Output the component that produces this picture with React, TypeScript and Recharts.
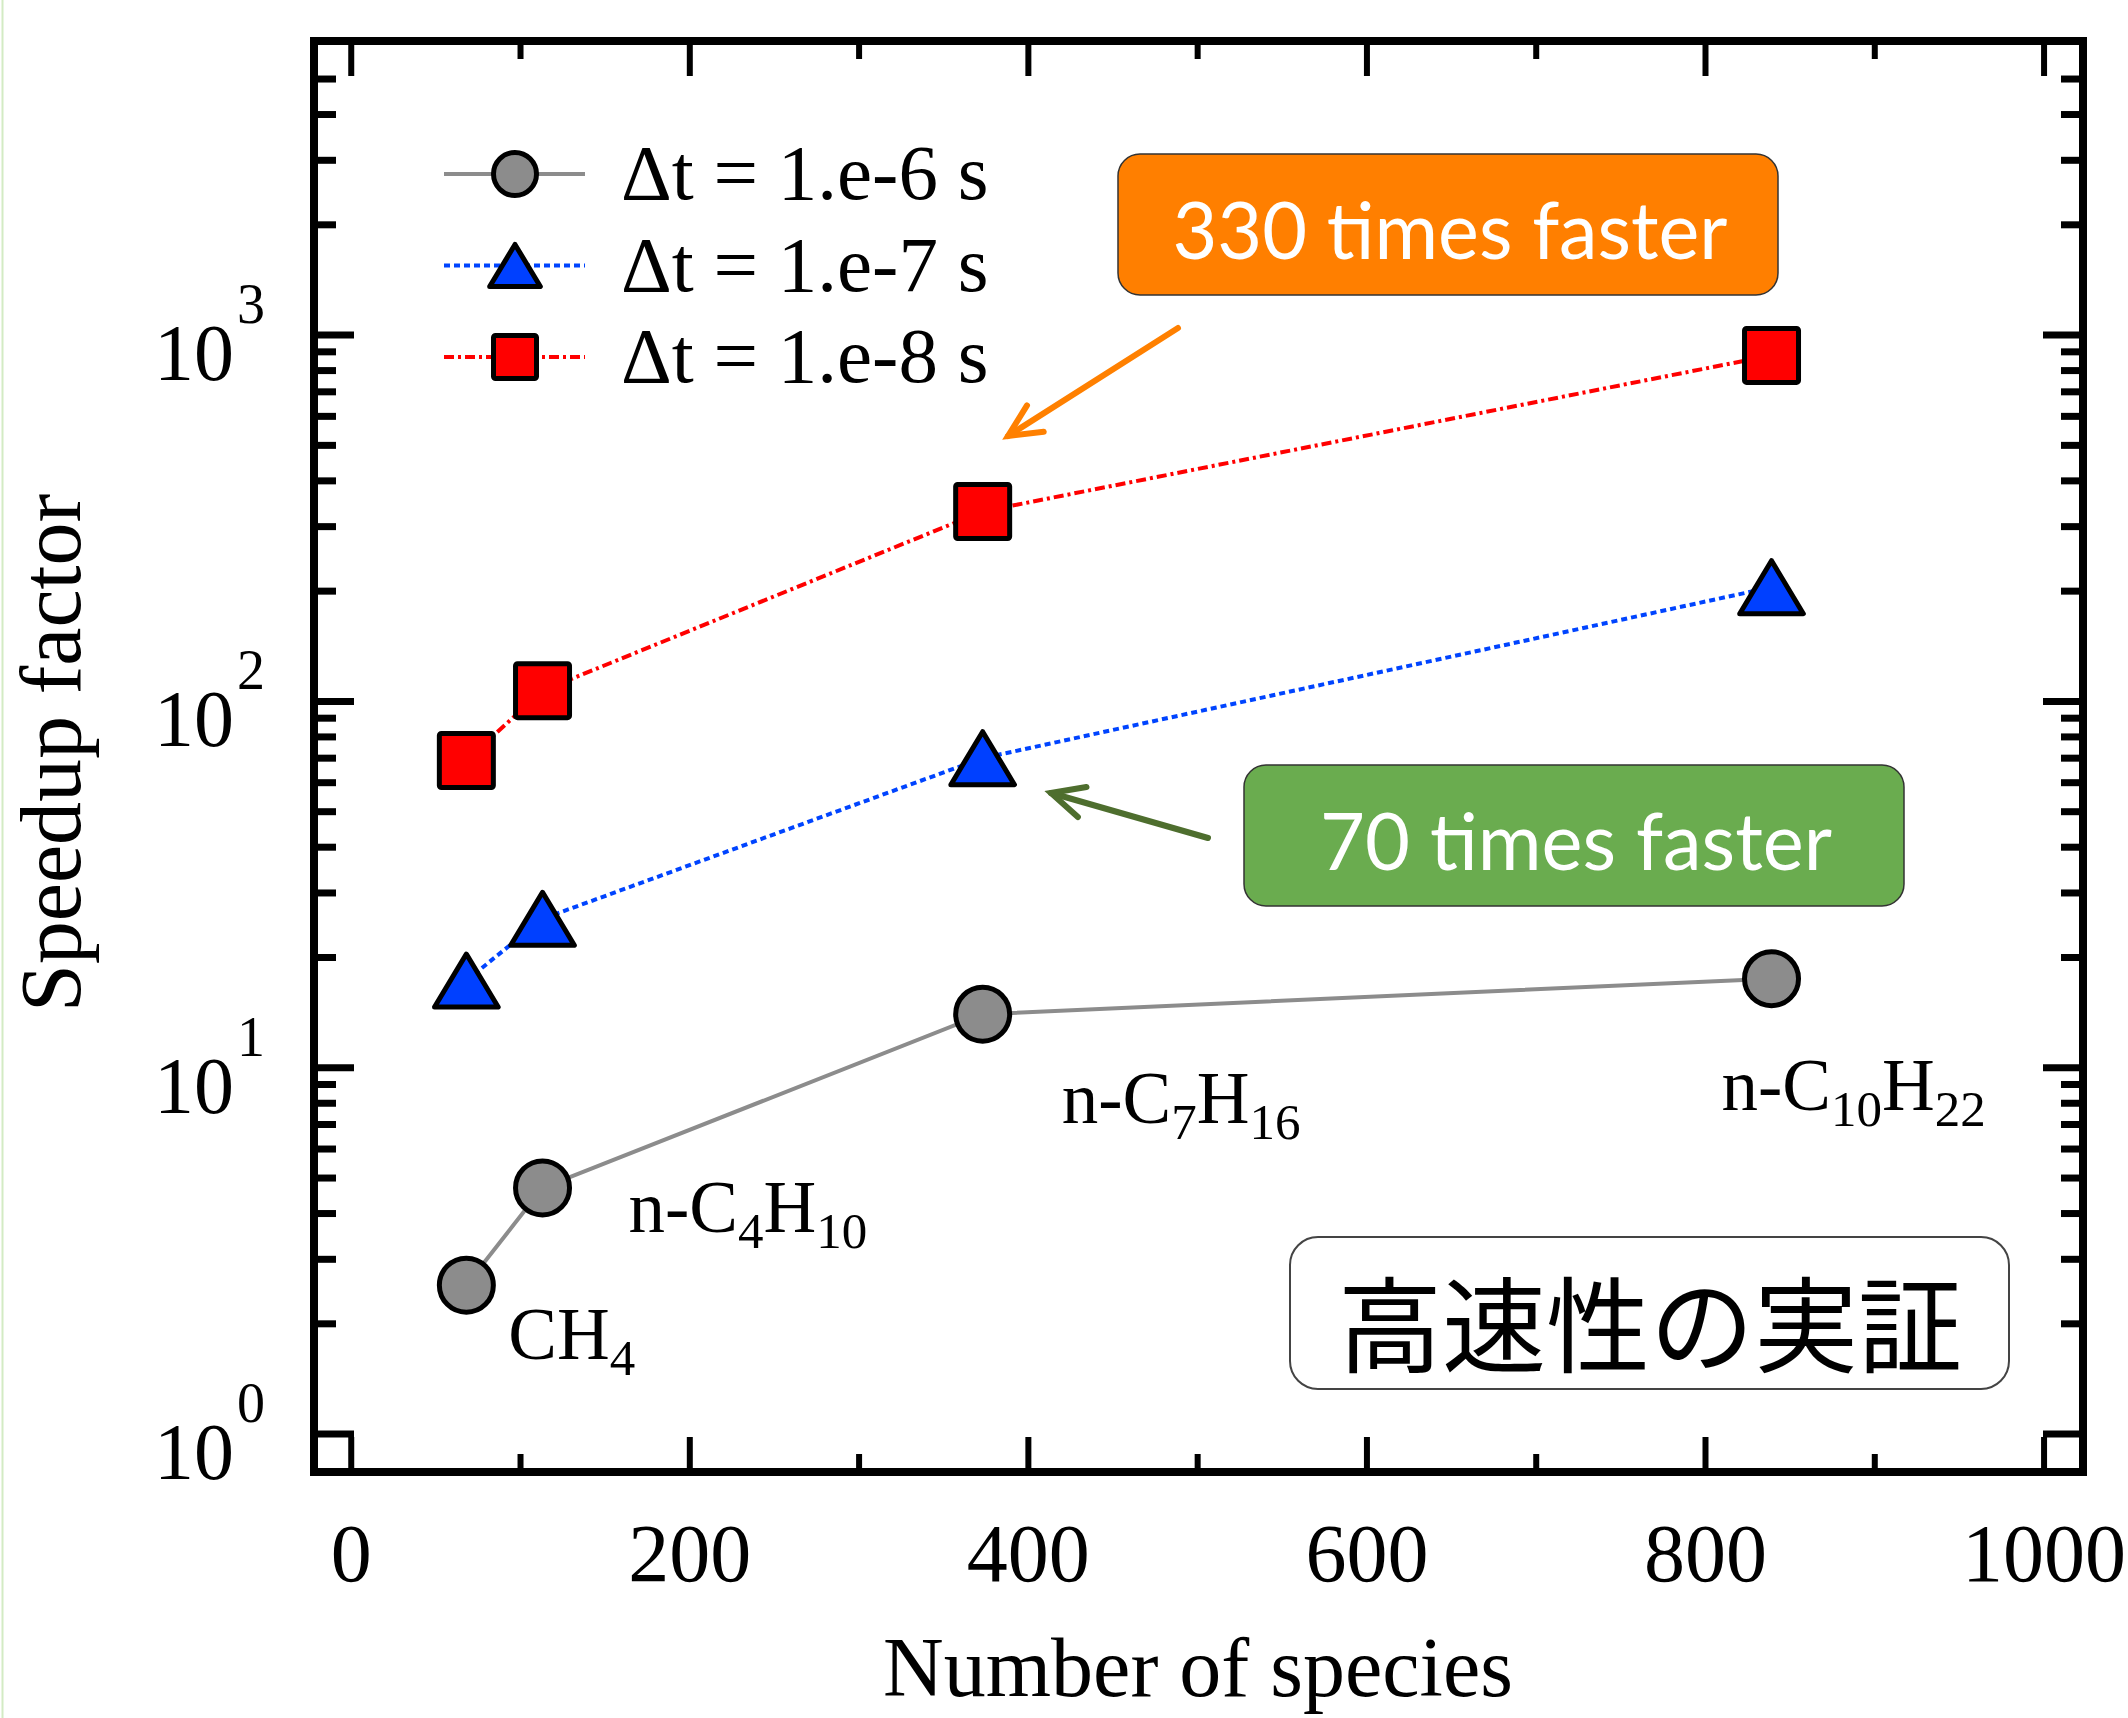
import React from 'react'
import { ComposedChart, Line, XAxis, YAxis } from 'recharts'

// number of species in each mechanism
const species = [68, 113, 373, 839]
// speedup factor per time step
const speedup1e6 = [2.55, 4.7, 14, 17.5]
const speedup1e7 = [17.3, 25.5, 70, 205]
const speedup1e8 = [69, 107, 330, 880]

// fuel names: [main text, subscript] pairs
const molecules = [
  [['CH', '4']],
  [['n-C', '4'], ['H', '10']],
  [['n-C', '7'], ['H', '16']],
  [['n-C', '10'], ['H', '22']],
]

const legendLabels = ['Δt = 1.e-6 s', 'Δt = 1.e-7 s', 'Δt = 1.e-8 s']

const xMajorTicks = [0, 200, 400, 600, 800, 1000]
const xTicks = [0, 100, 200, 300, 400, 500, 600, 700, 800, 900, 1000]
const yMajorTicks = [1, 10, 100, 1000]
const yTicks = [
  1, 2, 3, 4, 5, 6, 7, 8, 9,
  10, 20, 30, 40, 50, 60, 70, 80, 90,
  100, 200, 300, 400, 500, 600, 700, 800, 900,
  1000, 2000, 3000, 4000, 5000,
]

const data = species.map((s, i) => ({
  species: s,
  dt6: speedup1e6[i],
  dt7: speedup1e7[i],
  dt8: speedup1e8[i],
}))

const W = 2128
const H = 1718
const X_DOMAIN = [-22, 1023]
const Y_DOMAIN = [0.788, 6350]
const SERIF = '"Liberation Serif", "Times New Roman", serif'
const AXIS_LINE = { stroke: '#000', strokeWidth: 8, strokeLinecap: 'square' }

const SERIES = [
  { key: 'dt6', stroke: '#8c8c8c', dash: undefined, marker: 'circle', fill: '#8c8c8c' },
  { key: 'dt7', stroke: '#0044ff', dash: '6 4', marker: 'triangle', fill: '#0040ff' },
  { key: 'dt8', stroke: '#ff0000', dash: '10 4 3 4', marker: 'square', fill: '#ff0000' },
]

// label placement relative to the gray markers
const MOLECULE_OFFSETS = [
  [42, 74],
  [86, 44],
  [79, 109],
  [-50, 131],
]
const SUB_SHIFT = 16

function Marker({ kind, cx, cy, size, fill }) {
  if (kind === 'circle') {
    return <circle cx={cx} cy={cy} r={size / 2 - 2.5} fill={fill} stroke="#000" strokeWidth={5} />
  }
  if (kind === 'square') {
    const h = size / 2 - 2.5
    return (
      <rect x={cx - h} y={cy - h} width={2 * h} height={2 * h} rx={2} fill={fill} stroke="#000" strokeWidth={5} />
    )
  }
  const hw = (size * 1.18) / 2 - 3
  const hh = size / 2 - 3
  return (
    <polygon
      points={`${cx},${cy - hh} ${cx + hw},${cy + hh} ${cx - hw},${cy + hh}`}
      fill={fill}
      stroke="#000"
      strokeWidth={5}
      strokeLinejoin="round"
    />
  )
}

function MoleculeLabel({ x, y, index }) {
  const parts = molecules[index]
  const [dx, dy] = MOLECULE_OFFSETS[index]
  return (
    <text x={x + dx} y={y + dy} fontFamily={SERIF} fontSize={73} fill="#000">
      {parts.flatMap(([main, sub], i) => [
        <tspan key={`m${i}`} dy={i === 0 ? 0 : -SUB_SHIFT}>
          {main}
        </tspan>,
        <tspan key={`s${i}`} dy={SUB_SHIFT} fontSize={51}>
          {sub}
        </tspan>,
      ])}
    </text>
  )
}

const isMajorX = (v) => xMajorTicks.includes(v)
const isMajorY = (v) => yMajorTicks.includes(v)

const BottomTick = ({ x, y, payload }) => {
  const major = isMajorX(payload.value)
  return (
    <g>
      <line x1={x} x2={x} y1={y} y2={y - (major ? 35 : 18)} stroke="#000" strokeWidth={6} />
      {major && (
        <text x={x} y={y + 109} textAnchor="middle" fontFamily={SERIF} fontSize={82} fill="#000">
          {payload.value}
        </text>
      )}
    </g>
  )
}

const TopTick = ({ x, y, payload }) => {
  const major = isMajorX(payload.value)
  return <line x1={x} x2={x} y1={y} y2={y + (major ? 35 : 18)} stroke="#000" strokeWidth={6} />
}

const LeftTick = ({ x, y, payload }) => {
  const major = isMajorY(payload.value)
  const exp = Math.round(Math.log10(payload.value))
  return (
    <g>
      <line x1={x} x2={x + (major ? 40 : 22)} y1={y} y2={y} stroke="#000" strokeWidth={7} />
      {major && (
        <g fontFamily={SERIF} fill="#000">
          <text x={234} y={y + 45} textAnchor="end" fontSize={80}>
            10
          </text>
          <text x={237} y={y - 12} fontSize={56}>
            {exp}
          </text>
        </g>
      )}
    </g>
  )
}

const RightTick = ({ x, y, payload }) => {
  const major = isMajorY(payload.value)
  return <line x1={x} x2={x - (major ? 40 : 22)} y1={y} y2={y} stroke="#000" strokeWidth={7} />
}

function Arrow({ from, to, color }) {
  const [x1, y1] = from
  const [x2, y2] = to
  const a = Math.atan2(y1 - y2, x1 - x2)
  const len = 36
  const spread = Math.PI / 7
  const p1 = [x2 + len * Math.cos(a + spread), y2 + len * Math.sin(a + spread)]
  const p2 = [x2 + len * Math.cos(a - spread), y2 + len * Math.sin(a - spread)]
  return (
    <g stroke={color} strokeWidth={6} fill="none" strokeLinecap="round">
      <line x1={x1} y1={y1} x2={x2} y2={y2} />
      <polyline points={`${p1[0]},${p1[1]} ${x2},${y2} ${p2[0]},${p2[1]}`} />
    </g>
  )
}

function Overlay() {
  return (
    <svg width={W} height={H} style={{ position: 'absolute', left: 0, top: 0, pointerEvents: 'none' }}>
      <line x1={2.5} x2={2.5} y1={0} y2={H} stroke="#d3ebc4" strokeWidth={2} />

      {/* legend */}
      {SERIES.map((s, i) => {
        const cy = 174 + i * 91.5
        return (
          <g key={s.key}>
            <line x1={444} x2={585} y1={cy} y2={cy} stroke={s.stroke} strokeWidth={4} strokeDasharray={s.dash} />
            <Marker kind={s.marker} cx={515} cy={cy} size={48} fill={s.fill} />
            <text x={621} y={cy + 25} fontFamily={SERIF} fontSize={79} fill="#000">
              {legendLabels[i]}
            </text>
          </g>
        )
      })}

      {/* callouts */}
      <rect x={1118} y={154} width={660} height={141} rx={22} fill="#ff7f00" stroke="#333" strokeWidth={1.5} />
      <text
        x={1450}
        y={259}
        textAnchor="middle"
        fontFamily="Lato, 'Open Sans', sans-serif"
        fontSize={80}
        fill="#fff"
        textLength={555}
        lengthAdjust="spacingAndGlyphs"
      >
        330 times faster
      </text>
      <Arrow from={[1178, 328]} to={[1008, 436]} color="#ff8000" />

      <rect x={1244} y={765} width={660} height={141} rx={22} fill="#6aac4f" stroke="#333" strokeWidth={1.5} />
      <text
        x={1576}
        y={870}
        textAnchor="middle"
        fontFamily="Lato, 'Open Sans', sans-serif"
        fontSize={80}
        fill="#fff"
        textLength={512}
        lengthAdjust="spacingAndGlyphs"
      >
        70 times faster
      </text>
      <Arrow from={[1208, 838]} to={[1051, 793]} color="#4e6e2e" />

      <rect x={1290} y={1237} width={719} height={152} rx={28} fill="#fff" stroke="#444" strokeWidth={2} />
      <text
        x={1650}
        y={1319}
        textAnchor="middle"
        dominantBaseline="central"
        fontFamily="'Noto Sans CJK JP', sans-serif"
        fontWeight={400}
        fontSize={104}
        fill="#000"
      >
        高速性の実証
      </text>

      {/* axis titles */}
      <text x={1198} y={1696} textAnchor="middle" fontFamily={SERIF} fontSize={84} fill="#000">
        Number of species
      </text>
      <text
        x={80}
        y={753}
        textAnchor="middle"
        transform="rotate(-90, 80, 753)"
        fontFamily={SERIF}
        fontSize={86}
        fill="#000"
      >
        Speedup factor
      </text>
    </svg>
  )
}

export default function App() {
  return (
    <div style={{ position: 'absolute', left: 0, top: 0, width: W, height: H, background: '#fff' }}>
      <ComposedChart width={W} height={H} data={data} margin={{ top: 0, right: 0, bottom: 0, left: 0 }}>
        <XAxis
          xAxisId="bottom"
          dataKey="species"
          type="number"
          domain={X_DOMAIN}
          ticks={xTicks}
          interval={0}
          height={246}
          tickSize={0}
          tickMargin={0}
          tickLine={false}
          axisLine={AXIS_LINE}
          tick={(p) => <BottomTick {...p} />}
          allowDataOverflow
        />
        <XAxis
          xAxisId="top"
          orientation="top"
          dataKey="species"
          type="number"
          domain={X_DOMAIN}
          ticks={xTicks}
          interval={0}
          height={41}
          tickSize={0}
          tickMargin={0}
          tickLine={false}
          axisLine={AXIS_LINE}
          tick={(p) => <TopTick {...p} />}
          allowDataOverflow
        />
        <YAxis
          yAxisId="left"
          type="number"
          scale="log"
          domain={Y_DOMAIN}
          ticks={yTicks}
          interval={0}
          width={314}
          tickSize={0}
          tickMargin={0}
          tickLine={false}
          axisLine={AXIS_LINE}
          tick={(p) => <LeftTick {...p} />}
          allowDataOverflow
        />
        <YAxis
          yAxisId="right"
          orientation="right"
          type="number"
          scale="log"
          domain={Y_DOMAIN}
          ticks={yTicks}
          interval={0}
          width={45}
          tickSize={0}
          tickMargin={0}
          tickLine={false}
          axisLine={AXIS_LINE}
          tick={(p) => <RightTick {...p} />}
          allowDataOverflow
        />
        {SERIES.map((s) => (
          <Line
            key={s.key}
            xAxisId="bottom"
            yAxisId="left"
            type="linear"
            dataKey={s.key}
            stroke={s.stroke}
            strokeWidth={4}
            strokeDasharray={s.dash}
            isAnimationActive={false}
            activeDot={false}
            dot={(p) => (
              <g key={`${s.key}-${p.index}`}>
                <Marker kind={s.marker} cx={p.cx} cy={p.cy} size={59} fill={s.fill} />
                {s.key === 'dt6' && <MoleculeLabel x={p.cx} y={p.cy} index={p.index} />}
              </g>
            )}
          />
        ))}
      </ComposedChart>
      <Overlay />
    </div>
  )
}
